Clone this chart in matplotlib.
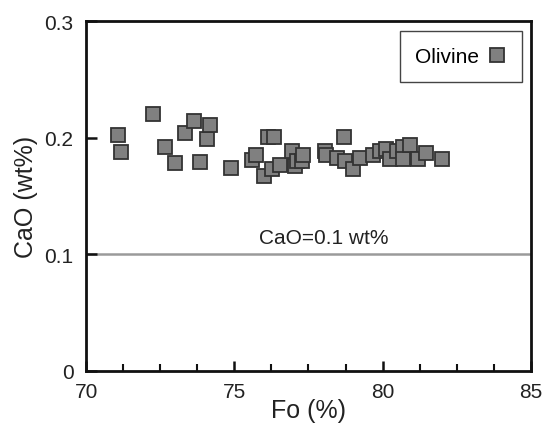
import matplotlib.pyplot as plt
from matplotlib.ticker import MultipleLocator

plt.rcParams['font.family'] = ['Liberation Sans', 'DejaVu Sans']

# olivine analyses
fo = [71.07, 71.17, 72.25, 72.67, 73.0, 73.34, 73.65, 73.84, 74.09, 74.18,
      74.9, 75.58, 75.73, 76.0, 76.15, 76.35, 76.26, 76.54, 76.93, 77.04,
      77.1, 77.27, 77.3, 78.05, 78.1, 78.45, 78.7, 78.73, 79.0, 79.23,
      79.68, 79.9, 80.13, 80.25, 80.47, 80.69, 80.69, 80.92, 81.2, 81.48, 82.0]
cao = [0.202, 0.188, 0.220, 0.1925, 0.178, 0.204, 0.214, 0.179, 0.199, 0.211,
       0.174, 0.181, 0.185, 0.167, 0.201, 0.201, 0.173, 0.177, 0.189, 0.176,
       0.180, 0.180, 0.185, 0.189, 0.185, 0.183, 0.201, 0.180, 0.173, 0.183,
       0.185, 0.189, 0.190, 0.182, 0.189, 0.192, 0.182, 0.194, 0.182, 0.187, 0.182]
ref_cao = 0.1

fig = plt.figure(figsize=(5.45, 4.27), dpi=100)
ax = fig.add_axes([0.158, 0.129, 0.816, 0.819])

ax.axhline(ref_cao, color='#9a9a9a', lw=1.8, zorder=1)
ax.text(78.0, ref_cao + 0.006, 'CaO=0.1 wt%', ha='center', va='bottom',
        fontsize=15, color='#222222')

ax.plot(fo, cao, 's', ms=10.5, mfc='#808080', mec='#333333', mew=1.3,
        ls='none', label='Olivine', zorder=3)

ax.set_xlim(70, 85)
ax.set_ylim(0, 0.3)
ax.xaxis.set_minor_locator(MultipleLocator(1.25))
ax.set_xticks([70, 75, 80, 85])
ax.set_yticks([0, 0.1, 0.2, 0.3])
ax.set_yticklabels(['0', '0.1', '0.2', '0.3'])

for s in ax.spines.values():
    s.set_linewidth(2.0)
    s.set_color('#111111')
ax.tick_params(which='major', direction='in', length=7, width=1.8,
               labelsize=15, top=False, right=False, colors='#111111',
               labelcolor='#222222')
ax.tick_params(which='minor', direction='in', length=5, width=1.5,
               top=False, right=False, colors='#111111')
ax.tick_params(axis='x', pad=8)
ax.tick_params(axis='y', length=8, pad=9)

ax.set_xlabel('Fo (%)', fontsize=18, labelpad=-2, color='#222222')
ax.set_ylabel('CaO (wt%)', fontsize=18, labelpad=5, color='#222222')

leg = ax.legend(loc='upper right', markerfirst=False, fontsize=15,
                fancybox=False, edgecolor='#444444', framealpha=1,
                handletextpad=0.4, borderpad=0.75, handlelength=0.9,
                borderaxespad=0, bbox_to_anchor=(0.98, 0.971))
leg.get_frame().set_linewidth(1.0)

fig.savefig('out.png', dpi=100)
